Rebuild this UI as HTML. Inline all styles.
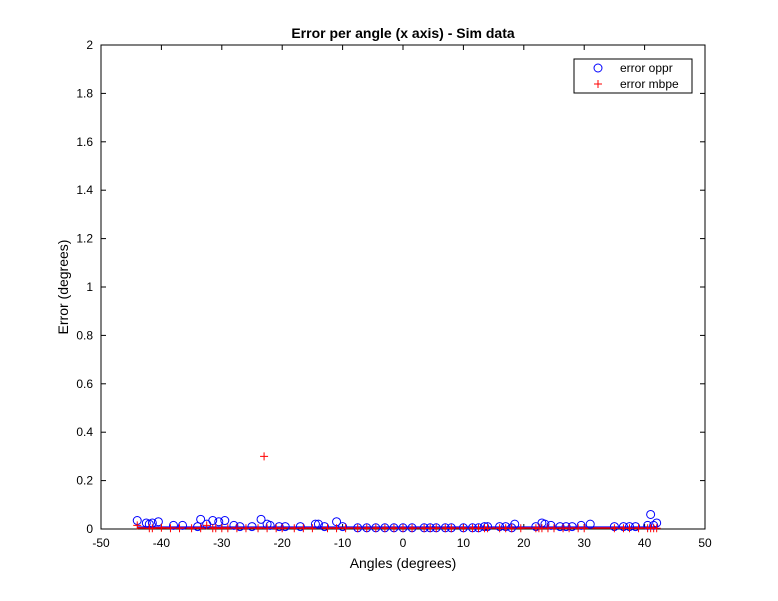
<!DOCTYPE html>
<html><head><meta charset="utf-8"><style>
body{margin:0;background:#fff;font-family:"Liberation Sans",sans-serif}
svg text{font-family:"Liberation Sans",sans-serif}
</style></head><body>
<svg id="c" width="778" height="596" xmlns="http://www.w3.org/2000/svg">
<rect width="778" height="596" fill="#fff"/>
<text x="403" y="38" text-anchor="middle" font-size="14" font-weight="bold">Error per angle (x axis)  - Sim data</text>
<g id="plot"></g>
<text x="403" y="568" text-anchor="middle" font-size="14">Angles (degrees)</text>
<text x="68" y="287" text-anchor="middle" font-size="14" transform="rotate(-90 68 287)">Error (degrees)</text>
<g>
<rect x="574" y="59" width="118" height="34" fill="#fff" stroke="#000" stroke-width="1"/>
<circle cx="598" cy="68" r="4" fill="none" stroke="#00f"/>
<text x="620" y="72" font-size="12">error oppr</text>
<path d="M594 84h8M598 80v8" stroke="#f00"/>
<text x="620" y="88" font-size="12">error mbpe</text>
</g>
</svg>
<script>
const xTicks=[-50,-40,-30,-20,-10,0,10,20,30,40,50];
const yTicks=[0,0.2,0.4,0.6,0.8,1,1.2,1.4,1.6,1.8,2];
const yTickLabels=["0","0.2","0.4","0.6","0.8","1","1.2","1.4","1.6","1.8","2"];
const opprAngles=[-44,-42.5,-42,-41.5,-40.5,-38,-36.5,-34,-33.5,-32.5,-31.5,-30.5,-29.5,-28,-27,-25,-23.5,-22.5,-22,-20.5,-19.5,-17,-14.5,-14,-13,-11,-10,-7.5,-6,-4.5,-3,-1.5,0,1.5,3.5,4.5,5.5,7,8,10,11.5,12.5,13.5,14,16,17,18,18.5,22,23,23.5,24.5,26,27,28,29.5,31,35,36.5,37.5,38.5,40.5,41,41.5,42];
const opprErrors=[0.035,0.025,0.02,0.025,0.03,0.015,0.015,0.01,0.04,0.02,0.035,0.03,0.035,0.015,0.01,0.01,0.04,0.02,0.015,0.01,0.01,0.01,0.02,0.02,0.01,0.03,0.01,0.005,0.005,0.005,0.005,0.005,0.005,0.005,0.005,0.005,0.005,0.005,0.005,0.005,0.005,0.005,0.01,0.01,0.01,0.01,0.005,0.02,0.01,0.025,0.02,0.015,0.01,0.01,0.01,0.015,0.02,0.01,0.01,0.01,0.01,0.015,0.06,0.015,0.025];
const mbpeAngles=[-44,-42,-41.5,-40,-38.5,-37,-35,-33.5,-32.5,-31.5,-31,-30,-29,-27.5,-26,-24,-23,-22.5,-21,-20,-18,-16.5,-15,-12.5,-11,-9.5,-7.5,-6,-4.5,-3,-1.5,0,1.5,3.5,4.5,5.5,7,8,10,11.5,12.5,13.5,14,16,17,18,19.5,22,22.5,23,24,25,26.5,27.5,29,30,35,36.5,37.5,39,40.5,41,41.5,42];
const mbpeErrors=[0.015,0.003,0.003,0.005,0.003,0.003,0.003,0.003,0.015,0.003,0.003,0.003,0.003,0.003,0.003,0.003,0.3,0.003,0.003,0.003,0.003,0.003,0.003,0.003,0.003,0.003,0.003,0.003,0.003,0.003,0.003,0.003,0.003,0.003,0.003,0.003,0.003,0.003,0.003,0.003,0.003,0.003,0.003,0.003,0.003,0.003,0.003,0.003,0.003,0.003,0.003,0.003,0.003,0.003,0.003,0.003,0.003,0.003,0.003,0.003,0.003,0.003,0.003,0.003];
const opprFit=[0.008,0.008];
const mbpeFit=[0.004,0.004];
const fitRange=[-44,42];
const X0=101,X1=705,Y0=529,Y1=45;
const xs=v=>X0+(v+50)/100*(X1-X0);
const ys=v=>Y0-(v/2)*(Y0-Y1);
const NS="http://www.w3.org/2000/svg";
const g=document.getElementById('plot');
function mk(t,a){const e=document.createElementNS(NS,t);for(const k in a)e.setAttribute(k,a[k]);g.appendChild(e);return e;}
let ax=mk('rect',{x:X0,y:Y1,width:X1-X0,height:Y0-Y1,fill:'none',stroke:'#000'});


xTicks.forEach(t=>{const x=xs(t);
mk('line',{x1:x,x2:x,y1:Y0,y2:Y0-5,stroke:'#000'});mk('line',{x1:x,x2:x,y1:Y1,y2:Y1+5,stroke:'#000'});
const tx=mk('text',{x:x,y:Y0+18,'text-anchor':'middle','font-size':12});tx.textContent=t;

});
yTicks.forEach((t,i)=>{const y=ys(t);
mk('line',{x1:X0,x2:X0+5,y1:y,y2:y,stroke:'#000'});mk('line',{x1:X1,x2:X1-5,y1:y,y2:y,stroke:'#000'});
const tx=mk('text',{x:X0-8,y:y+4,'text-anchor':'end','font-size':12});tx.textContent=yTickLabels[i];

});
let l1=mk('line',{x1:xs(fitRange[0]),x2:xs(fitRange[1]),y1:ys(opprFit[0]),y2:ys(opprFit[1]),stroke:'#00f','stroke-width':1.5});


let l2=mk('line',{x1:xs(fitRange[0]),x2:xs(fitRange[1]),y1:ys(mbpeFit[0]),y2:ys(mbpeFit[1]),stroke:'#f00','stroke-width':1.5});


opprAngles.forEach((a,i)=>{const c=mk('circle',{cx:xs(a),cy:ys(opprErrors[i]),r:4,fill:'none',stroke:'#00f'});

});
mbpeAngles.forEach((a,i)=>{const x=xs(a),y=ys(mbpeErrors[i]);const p=mk('path',{d:`M${x-4} ${y}h8M${x} ${y-4}v8`,stroke:'#f00'});

});
</script>
</body></html>
